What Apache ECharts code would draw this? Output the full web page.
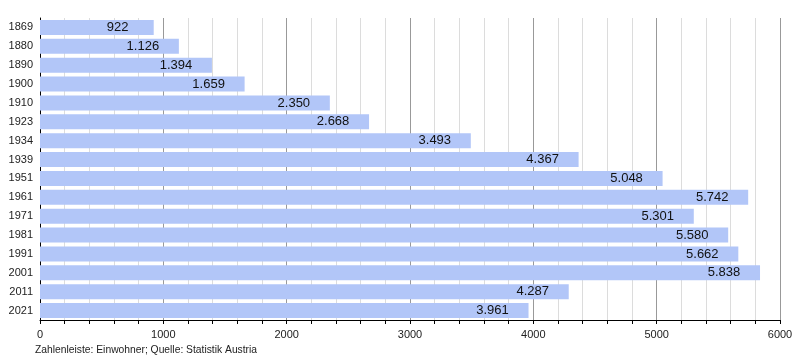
<!DOCTYPE html>
<html><head><meta charset="utf-8">
<script src="https://cdn.jsdelivr.net/npm/echarts@6/dist/echarts.min.js"></script>
<style>html,body{margin:0;padding:0;background:#fff}#c{width:800px;height:360px}</style>
</head><body><div id="c"></div>
<script>
var years = ['1869','1880','1890','1900','1910','1923','1934','1939','1951','1961','1971','1981','1991','2001','2011','2021'];
var population = [922,1126,1394,1659,2350,2668,3493,4367,5048,5742,5301,5580,5662,5838,4287,3961];
var xTicks = [0,1000,2000,3000,4000,5000,6000];
var footnote = 'Zahlenleiste: Einwohner; Quelle: Statistik Austria';

function fmt(v){ return String(v).replace(/\B(?=(\d{3})+(?!\d))/g,'.'); }

var chart = echarts.init(document.getElementById('c'), null, {renderer:'canvas'});
chart.setOption({
  animation:false,
  backgroundColor:'#ffffff',
  textStyle:{fontFamily:'Liberation Sans, Arial, sans-serif'},
  grid:{left:40, right:20, top:18, bottom:40},
  xAxis:[{
    type:'value', min:0, max:6000, interval:1000,
    axisLine:{show:true, lineStyle:{color:'#000', width:1}},
    axisTick:{show:true, length:4, lineStyle:{color:'#000'}},
    minorTick:{show:true, splitNumber:5, length:4, lineStyle:{color:'#000'}},
    axisLabel:{color:'#222', fontSize:11, margin:9, formatter:function(v){return xTicks.indexOf(v)>=0?String(v):'';}},
    splitLine:{show:true, lineStyle:{color:'#999', width:1}},
    minorSplitLine:{show:true, lineStyle:{color:'#dcdcdc', width:1}}
  }],
  yAxis:[{
    type:'category', data:years, inverse:true,
    axisLine:{show:true, lineStyle:{color:'#000'}},
    axisTick:{show:false},
    axisLabel:{color:'#222', fontSize:11, margin:7},
    splitLine:{show:false}
  }],
  series:[{
    type:'bar', data:population, barWidth:15,
    itemStyle:{color:'#b2c6f8'},
    label:{
      show:true, position:'insideRight', distance:18,
      formatter:function(p){return '{a|'+fmt(p.value)+'}';},
      rich:{a:{width:36, align:'center', fontSize:13, color:'#111', fontFamily:'Liberation Sans, Arial, sans-serif'}}
    }
  }],
  graphic:[{
    type:'text', left:35, top:345,
    style:{text:footnote, fontSize:10.3, fill:'#222', fontFamily:'Liberation Sans, Arial, sans-serif'}
  }]
});
</script></body></html>
